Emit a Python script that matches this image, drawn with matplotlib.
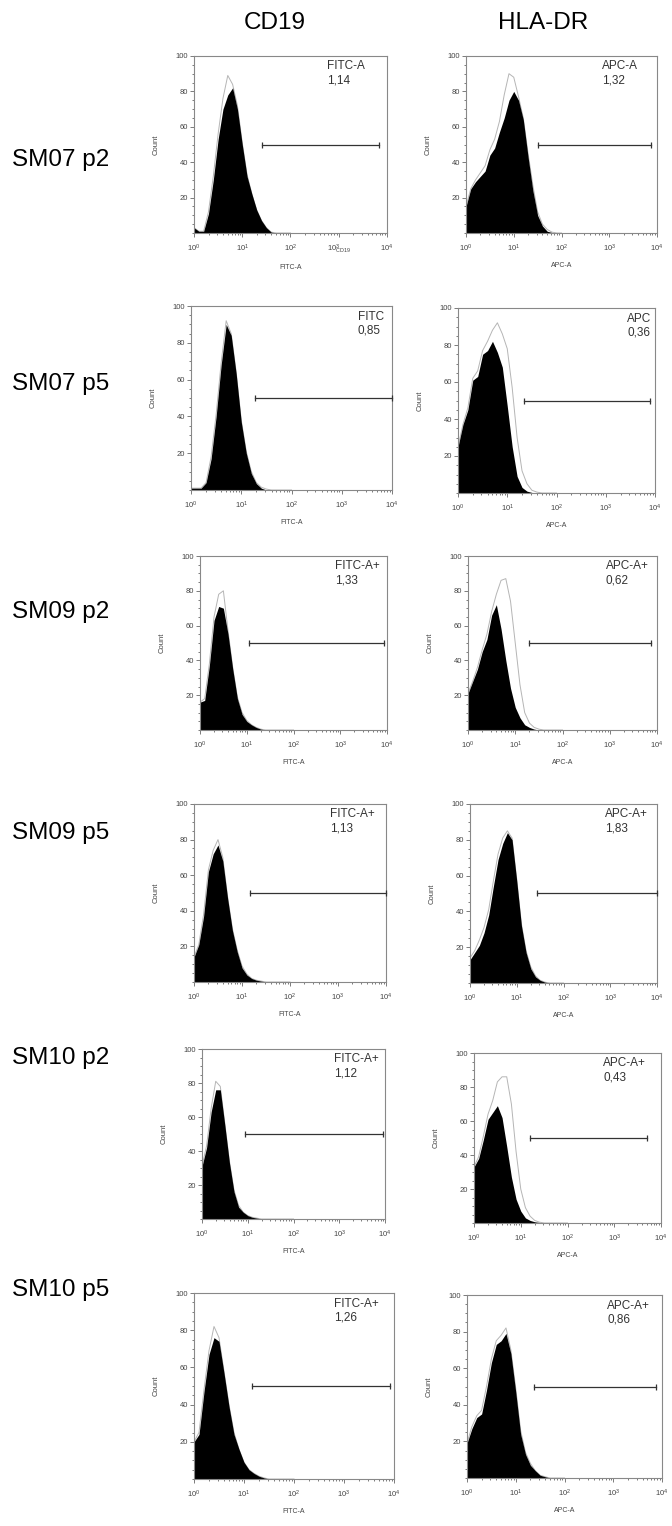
import numpy as np
import matplotlib.pyplot as plt
from matplotlib.ticker import MultipleLocator, LogLocator, NullFormatter

plt.rcParams['font.family'] = ['Liberation Sans', 'DejaVu Sans']
plt.rcParams['mathtext.fontset'] = 'custom'
plt.rcParams['mathtext.rm'] = 'Liberation Sans'

# fluorescence channel positions (log10 units)
log_fl = [0.0, 0.1, 0.2, 0.3, 0.4, 0.5, 0.6, 0.7, 0.8, 0.9, 1.0,
          1.1, 1.2, 1.3, 1.4, 1.5, 1.6, 1.7, 1.8, 1.9, 2.0]

rows = ['SM07 p2', 'SM07 p5', 'SM09 p2', 'SM09 p5', 'SM10 p2', 'SM10 p5']
markers = ['CD19', 'HLA-DR']

# black = stained sample, grey outline = isotype control
sm07p2_cd19 = [3, 1, 1, 11, 30, 53, 70, 78, 82, 70, 50, 32, 22, 13, 7, 3, 0.5, 0, 0, 0, 0]
sm07p2_cd19_iso = [3, 1, 1, 12, 32, 56, 76, 89, 84, 72, 51, 33, 22, 13, 7, 3, 0.5, 0, 0, 0, 0]
sm07p2_hla = [15, 25, 29, 32, 35, 44, 48, 57, 65, 75, 80, 75, 64, 43, 24, 10, 4, 1, 0.3, 0, 0]
sm07p2_hla_iso = [15, 25, 30, 34, 38, 47, 53, 63, 78, 90, 88, 77, 65, 45, 27, 12, 5, 2, 0.5, 0, 0]

sm07p5_cd19 = [1, 1, 1, 4, 17, 40, 68, 90, 84, 63, 37, 20, 9, 3.5, 1, 0, 0, 0, 0, 0, 0]
sm07p5_cd19_iso = [1, 1, 1, 4, 18, 41, 69, 92, 85, 64, 38, 21, 10, 4, 1.5, 0.5, 0, 0, 0, 0, 0]
sm07p5_hla = [25, 37, 45, 61, 63, 75, 77, 82, 76, 68, 47, 25, 9, 3, 1, 0.3, 0, 0, 0, 0, 0]
sm07p5_hla_iso = [25, 37, 46, 62, 66, 77, 82, 88, 92, 86, 78, 57, 30, 12, 5, 1.5, 0.5, 0, 0, 0, 0]

sm09p2_cd19 = [16, 17, 37, 63, 71, 70, 55, 35, 18, 9, 5, 3, 1.5, 0.5, 0, 0, 0, 0, 0, 0, 0]
sm09p2_cd19_iso = [16, 18, 38, 65, 78, 80, 57, 36, 19, 10, 5.5, 3, 1.5, 0.5, 0, 0, 0, 0, 0, 0, 0]
sm09p2_hla = [21, 28, 35, 45, 52, 66, 72, 58, 40, 24, 13, 7, 3, 1.5, 0.5, 0, 0, 0, 0, 0, 0]
sm09p2_hla_iso = [21, 28, 36, 46, 55, 68, 78, 86, 87, 74, 50, 26, 10, 4, 1.5, 0.5, 0, 0, 0, 0, 0]

sm09p5_cd19 = [14, 21, 37, 62, 72, 77, 68, 47, 29, 17, 8, 4, 2, 1, 0.5, 0, 0, 0, 0, 0, 0]
sm09p5_cd19_iso = [14, 21, 38, 63, 74, 80, 70, 48, 30, 18, 9, 4.5, 2, 1, 0.5, 0, 0, 0, 0, 0, 0]
sm09p5_hla = [13, 17, 21, 28, 38, 54, 69, 78, 84, 80, 57, 32, 17, 8, 3.5, 1.5, 0.5, 0, 0, 0, 0]
sm09p5_hla_iso = [14, 18, 24, 31, 41, 57, 72, 81, 85, 81, 58, 33, 18, 9, 4, 1.5, 0.5, 0, 0, 0, 0]

sm10p2_cd19 = [31, 42, 63, 76, 76, 55, 33, 16, 7, 4, 2, 1, 0.5, 0, 0, 0, 0, 0, 0, 0, 0]
sm10p2_cd19_iso = [31, 43, 65, 81, 78, 56, 34, 17, 8, 4, 2, 1, 0.5, 0, 0, 0, 0, 0, 0, 0, 0]
sm10p2_hla = [33, 38, 49, 61, 65, 69, 62, 45, 27, 14, 7, 3, 1.5, 0.7, 0.3, 0, 0, 0, 0, 0, 0]
sm10p2_hla_iso = [33, 39, 51, 64, 72, 83, 86, 86, 70, 42, 20, 9, 4, 1.5, 0.5, 0, 0, 0, 0, 0, 0]

sm10p5_cd19 = [20, 24, 47, 67, 76, 74, 57, 39, 24, 16, 9, 5, 3, 1.5, 0.6, 0, 0, 0, 0, 0, 0]
sm10p5_cd19_iso = [20, 25, 48, 69, 82, 76, 58, 40, 25, 16, 9, 5, 3, 1.5, 0.6, 0, 0, 0, 0, 0, 0]
sm10p5_hla = [19, 27, 33, 35, 48, 63, 73, 75, 79, 68, 47, 24, 13, 7, 4, 1.5, 0.7, 0, 0, 0, 0]
sm10p5_hla_iso = [19, 28, 34, 37, 50, 65, 75, 78, 82, 70, 49, 26, 14, 8, 4, 1.5, 0.7, 0, 0, 0, 0]

# gate marker (log10 start, log10 end), drawn at count 50
gates = [(1.40, 3.83), (1.51, 3.87), (1.28, 4.00), (1.34, 3.89),
         (1.05, 3.94), (1.30, 3.87), (1.16, 3.99), (1.44, 3.99),
         (0.95, 3.95), (1.20, 3.70), (1.16, 3.92), (1.38, 3.87)]
gate_names = ['FITC-A', 'APC-A', 'FITC', 'APC', 'FITC-A+', 'APC-A+',
              'FITC-A+', 'APC-A+', 'FITC-A+', 'APC-A+', 'FITC-A+', 'APC-A+']
gate_pct = ['1,14', '1,32', '0,85', '0,36', '1,33', '0,62',
            '1,13', '1,83', '1,12', '0,43', '1,26', '0,86']
axis_names = ['FITC-A', 'APC-A']

fills = [sm07p2_cd19, sm07p2_hla, sm07p5_cd19, sm07p5_hla, sm09p2_cd19, sm09p2_hla,
         sm09p5_cd19, sm09p5_hla, sm10p2_cd19, sm10p2_hla, sm10p5_cd19, sm10p5_hla]
isos = [sm07p2_cd19_iso, sm07p2_hla_iso, sm07p5_cd19_iso, sm07p5_hla_iso,
        sm09p2_cd19_iso, sm09p2_hla_iso, sm09p5_cd19_iso, sm09p5_hla_iso,
        sm10p2_cd19_iso, sm10p2_hla_iso, sm10p5_cd19_iso, sm10p5_hla_iso]

# panel boxes in pixels: left, top, right, bottom
boxes = [(194, 56, 387, 233), (466, 56, 657, 233),
         (191, 306, 392, 490), (458, 308, 655, 493),
         (200, 556, 387, 730), (468, 556, 657, 730),
         (194, 804, 386, 982), (470, 804, 657, 983),
         (202, 1049, 385, 1219), (474, 1053, 661, 1223),
         (194, 1293, 394, 1479), (467, 1295, 662, 1478)]
text_x = [0.69, 0.71, 0.83, 0.86, 0.72, 0.73, 0.71, 0.72, 0.72, 0.69, 0.70, 0.72]
row_y = [160, 384, 612, 833, 1058, 1290]

W, H = 672, 1526
fig = plt.figure(figsize=(W / 100, H / 100), dpi=100)

fig.text(275 / W, 1 - 23 / H, markers[0], ha='center', va='center', fontsize=17.5)
fig.text(543 / W, 1 - 23 / H, markers[1], ha='center', va='center', fontsize=17.5)
for name, y in zip(rows, row_y):
    fig.text(12 / W, 1 - y / H, name, ha='left', va='center', fontsize=17.5)

x = 10 ** np.array(log_fl)
for i in range(12):
    l, t, r, b = boxes[i]
    ax = fig.add_axes([l / W, 1 - b / H, (r - l) / W, (b - t) / H])
    ax.plot(x, isos[i], color='#b5b5b5', lw=0.7, zorder=1)
    ax.fill_between(x, fills[i], color='black', lw=0, zorder=2)
    g0, g1 = gates[i]
    ax.plot([10 ** g0, 10 ** g1], [50, 50], color='#333333', lw=0.9,
            marker='|', ms=5, mew=0.9, zorder=3, clip_on=False)
    ax.text(text_x[i], 0.975, gate_names[i] + '\n' + gate_pct[i], transform=ax.transAxes,
            ha='left', va='top', fontsize=8.5, color='#333333', linespacing=1.25)

    ax.set_xscale('log')
    ax.set_xlim(1, 1e4)
    ax.set_ylim(0, 100)
    xt_labels = [r'$\mathregular{10^{%d}}$' % k for k in range(5)]
    if i == 0:
        xt_labels[3] = r'$\mathregular{10^{3}_{CD19}}$'
    ax.set_xticks([1, 10, 100, 1000, 10000])
    ax.set_xticklabels(xt_labels)
    ax.xaxis.set_minor_locator(LogLocator(base=10, subs=np.arange(2, 10), numticks=20))
    ax.xaxis.set_minor_formatter(NullFormatter())
    ax.set_yticks([20, 40, 60, 80, 100])
    ax.yaxis.set_minor_locator(MultipleLocator(5))
    ax.tick_params(which='both', direction='out', color='#666666', width=0.6)
    ax.tick_params(which='major', length=3, labelsize=5.5, labelcolor='#444444')
    ax.tick_params(which='minor', length=1.5)
    ax.tick_params(axis='x', pad=4)
    ax.tick_params(axis='y', pad=1)
    ax.set_xlabel(axis_names[i % 2], fontsize=5, color='#444444', labelpad=6)
    ax.set_ylabel('Count', fontsize=5.5, color='#444444', labelpad=12)
    for s in ax.spines.values():
        s.set_color('#888888')
        s.set_linewidth(0.8)

fig.savefig('out.png', dpi=100)
